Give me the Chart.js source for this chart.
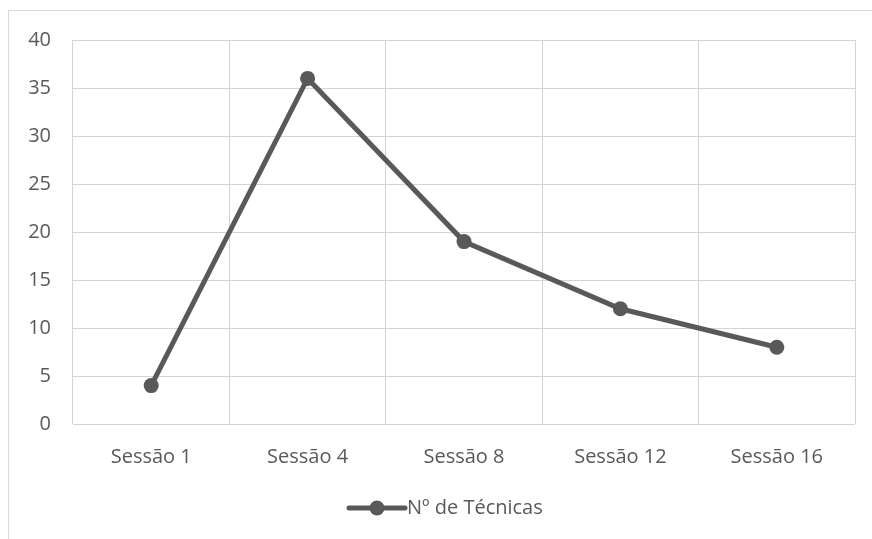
<!DOCTYPE html>
<html><head><meta charset="utf-8">
<script src="https://cdn.jsdelivr.net/npm/chart.js@4/dist/chart.umd.min.js"></script>
<style>
html,body{margin:0;padding:0;background:#fff;}
#wrap{position:relative;width:872px;height:539px;overflow:hidden;}
#frame{position:absolute;left:8px;top:10px;width:870px;height:560px;border:1px solid #d9d9d9;box-sizing:border-box;}
canvas{position:absolute;left:0;top:0;}
</style></head>
<body>
<div id="wrap"><div id="frame"></div><canvas id="c" width="872" height="539"></canvas></div>
<script>
const categories = ["Sessão 1", "Sessão 4", "Sessão 8", "Sessão 12", "Sessão 16"];
const seriesName = "Nº de Técnicas";
const values = [4, 36, 19, 12, 8];
const yTicks = [0, 5, 10, 15, 20, 25, 30, 35, 40];

const FONT = "'Open Sans', sans-serif";
const TXT = "#595959";
const LINE = "#595959";

const legendPlugin = {
  id: 'customLegend',
  afterDraw(chart) {
    const ctx = chart.ctx;
    const ds = chart.data.datasets[0];
    const y = 508;
    const x0 = 349, x1 = 405, cx = 377;
    ctx.save();
    ctx.strokeStyle = ds.borderColor;
    ctx.lineWidth = ds.borderWidth;
    ctx.lineCap = 'round';
    ctx.beginPath(); ctx.moveTo(x0, y); ctx.lineTo(x1, y); ctx.stroke();
    ctx.fillStyle = ds.pointBackgroundColor;
    ctx.beginPath(); ctx.arc(cx, y, ds.pointRadius, 0, Math.PI * 2); ctx.fill();
    ctx.fillStyle = TXT;
    ctx.font = "20px " + FONT;
    ctx.textBaseline = 'middle';
    ctx.textAlign = 'left';
    ctx.fillText(ds.label, 407, y);
    ctx.restore();
  }
};

new Chart(document.getElementById('c'), {
  type: 'line',
  data: {
    labels: categories,
    datasets: [{
      label: seriesName,
      data: values,
      borderColor: LINE,
      backgroundColor: LINE,
      pointBackgroundColor: LINE,
      pointBorderColor: LINE,
      borderWidth: 5,
      pointRadius: 7.5,
      pointBorderWidth: 0,
      tension: 0,
      clip: false
    }]
  },
  options: {
    responsive: false,
    animation: false,
    devicePixelRatio: 1,
    layout: { padding: { left: 0, right: 17, top: 40, bottom: 56 } },
    plugins: { legend: { display: false }, tooltip: { enabled: false } },
    scales: {
      x: {
        offset: true,
        grid: { offset: true, color: '#d4d4d4', lineWidth: 1, drawTicks: false },
        border: { display: false },
        ticks: { color: TXT, font: { family: FONT, size: 20 }, padding: 21, maxRotation: 0 },
        afterFit(s) { s.height = 59; }
      },
      y: {
        min: 0, max: 40,
        afterBuildTicks(s) { s.ticks = yTicks.map(v => ({ value: v })); },
        grid: { color: '#d4d4d4', lineWidth: 1, drawTicks: false },
        border: { display: false },
        ticks: { color: TXT, font: { family: FONT, size: 20 }, padding: 22 },
        afterFit(s) { s.width = 73; }
      }
    }
  },
  plugins: [legendPlugin]
});
</script>
</body></html>
